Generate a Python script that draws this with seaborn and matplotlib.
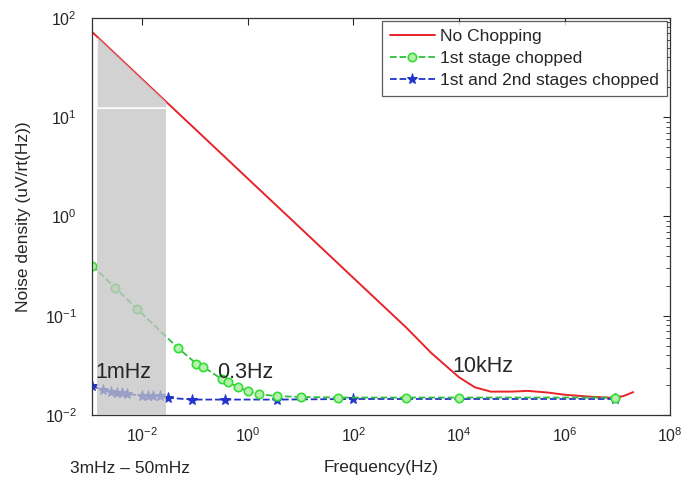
import numpy as np
import pandas as pd
import matplotlib
matplotlib.use("Agg")
import matplotlib.pyplot as plt
import seaborn as sns

# values (log-log)
red_f = [1.12e-3, 1e-2, 1e-1, 1, 10, 100, 1e3, 3e3, 1e4, 2e4, 4e4, 1e5, 2e5, 5e5, 1e6, 3e6, 8e6, 1.3e7, 2e7]
red_v = [72, 24, 7.6, 2.4, 0.76, 0.24, 0.076, 0.042, 0.024, 0.019, 0.0172, 0.0172, 0.0175, 0.0168, 0.016, 0.0153, 0.0149, 0.0155, 0.017]

green_f = [1.12e-3, 3.1e-3, 8e-3, 0.048, 0.105, 0.143, 0.32, 0.42, 0.66, 1.0, 1.6, 3.5, 10, 51, 1e3, 1e4, 9e6]
green_v = [0.32, 0.19, 0.117, 0.047, 0.033, 0.0305, 0.023, 0.0215, 0.019, 0.0174, 0.0162, 0.0155, 0.0152, 0.015, 0.015, 0.015, 0.015]

blue_f = [1.12e-3, 1.8e-3, 2.5e-3, 3.3e-3, 4.2e-3, 5.2e-3, 0.01, 0.013, 0.016, 0.022, 0.031, 0.088, 0.37, 3.6, 100, 9.2e6]
blue_v = [0.0196, 0.0179, 0.0171, 0.0167, 0.0167, 0.0163, 0.0156, 0.0156, 0.0156, 0.0155, 0.0149, 0.0143, 0.0143, 0.0143, 0.0145, 0.0145]

shade_lo, shade_hi = 1.4e-3, 2.8e-2

sns.set_style("white")
plt.rcParams["font.family"] = ["Liberation Sans", "DejaVu Sans"]

fig = plt.figure(figsize=(6.93, 4.82), dpi=100)
ax = fig.add_axes([0.133, 0.139, 0.834, 0.824])

sns.lineplot(x=red_f, y=red_v, ax=ax, color="#e8232a", lw=1.4,
             estimator=None, sort=False, label="No Chopping")
sns.lineplot(x=blue_f, y=blue_v, ax=ax, color="#2233cc", lw=1.3, linestyle="--",
             marker="*", markersize=8, markeredgecolor="#2233cc",
             estimator=None, sort=False, label="1st and 2nd stages chopped")
sns.lineplot(x=green_f, y=green_v, ax=ax, color="#2fbf3f", lw=1.3, linestyle="--",
             marker="o", markersize=6, markerfacecolor="#b8f0b0", markeredgecolor="#33dd33",
             markeredgewidth=1.2, estimator=None, sort=False, label="1st stage chopped")

ax.set_xscale("log")
ax.set_yscale("log")
ax.set_xlim(10 ** -2.95, 1e8)
ax.set_ylim(1e-2, 1e2)

# gray band 3mHz - 50mHz, drawn above the curves
rf = np.array(red_f)
rv = np.array(red_v)
band_x = np.concatenate(([shade_lo], rf[(rf > shade_lo) & (rf < shade_hi)], [shade_hi]))
band_top = 10 ** np.interp(np.log10(band_x), np.log10(rf), np.log10(rv))
ax.fill_between([shade_lo, shade_hi], 1e-2, 12.2, color="#c4c4c4", alpha=0.75, lw=0, zorder=5)
ax.fill_between(band_x, 12.7, np.maximum(band_top, 12.7), color="#c4c4c4", alpha=0.75, lw=0, zorder=5)

ax.set_xticks([1e-2, 1e0, 1e2, 1e4, 1e6, 1e8])
ax.xaxis.set_minor_locator(matplotlib.ticker.NullLocator())
ax.tick_params(which="both", direction="in", top=True, right=True, labelsize=11.5)
ax.tick_params(axis="y", which="major", pad=11)
ax.tick_params(axis="x", which="major", pad=8)
ax.tick_params(which="major", length=5)
ax.tick_params(which="minor", length=3)
for s in ax.spines.values():
    s.set_color("#333333")
    s.set_linewidth(0.9)

ax.set_xlabel("Frequency(Hz)", fontsize=12.5, labelpad=11)
ax.set_ylabel("Noise density (uV/rt(Hz))", fontsize=12.5, labelpad=10)

handles, labels = ax.get_legend_handles_labels()
order = [0, 2, 1]
leg = ax.legend([handles[i] for i in order], [labels[i] for i in order],
                loc="upper right", fontsize=12.5, frameon=True, fancybox=False,
                edgecolor="#333333", borderpad=0.45, handlelength=2.6, handletextpad=0.3,
                labelspacing=0.4, borderaxespad=0.2)
leg.get_frame().set_linewidth(0.9)

ax.text(1.28e-3, 0.027, "1mHz", fontsize=15.5, va="center", ha="left", zorder=6)
ax.text(0.26, 0.027, "0.3Hz", fontsize=15.5, va="center", ha="left", zorder=6)
ax.text(7.4e3, 0.0305, "10kHz", fontsize=15.5, va="center", ha="left", zorder=6)
fig.text(0.101, 0.027, "3mHz \u2013 50mHz", fontsize=12.5, ha="left", va="center")

fig.savefig("out.png", dpi=100)
